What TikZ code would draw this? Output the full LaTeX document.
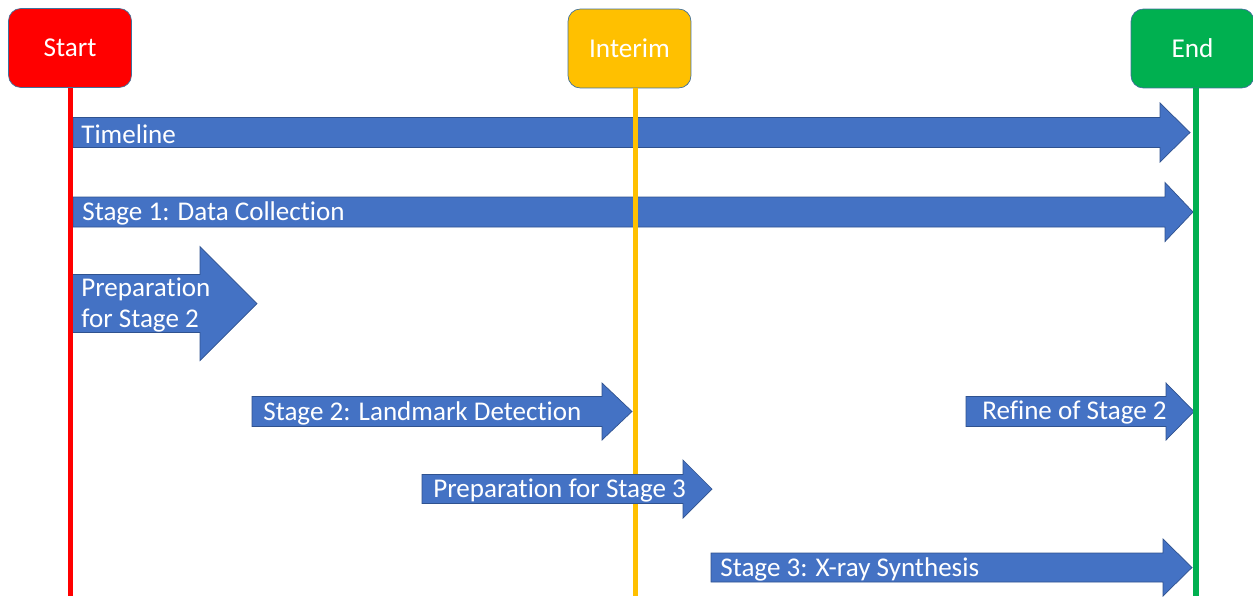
\documentclass[tikz,border=0pt]{standalone}
\usepackage{fontspec}
\setmainfont{Carlito}[Ligatures=NoCommon]
\definecolor{stageblue}{HTML}{4472C4}
\definecolor{stageedge}{HTML}{2F528F}
\definecolor{boxedge}{HTML}{41719C}
\definecolor{startred}{HTML}{FF0000}
\definecolor{interimgold}{HTML}{FFC000}
\definecolor{endgreen}{HTML}{00B050}
\newcommand{\stagearrow}[6]{%
  \filldraw[stagearrow] (#1,#4-#5) -- (#2,#4-#5) -- (#2,#4-#6) -- (#3,#4)
    -- (#2,#4+#6) -- (#2,#4+#5) -- (#1,#4+#5) -- cycle;}
\begin{document}
\begin{tikzpicture}[x=0.02cm, y=-0.02cm,
        milestone/.style={draw=boxedge, thin, rounded corners=7pt, minimum width=2.46cm,
            minimum height=1.58cm, text=white, font=\fontsize{15.5}{18}\selectfont},
        stagearrow/.style={fill=stageblue, draw=stageedge, thin},
        stagelabel/.style={anchor=west, inner sep=0pt, text=white, align=left,
            font=\fontsize{15.4}{18.2}\selectfont},
        phase/.style={line width=3.4pt}]
                \useasboundingbox (0,0) rectangle (1253,596);

                \path (70.5,596) coordinate (startfoot);
                \path (635.5,596) coordinate (interimfoot);
                \path (1196,596) coordinate (endfoot);

                \stagearrow{73}{1160}{1190}{132.5}{15}{29.5}
                \stagearrow{73}{1165}{1193}{212}{15}{29.5}
                \stagearrow{71}{200}{257}{303.5}{29}{57}
                \stagearrow{252}{602}{632}{411.5}{15}{28.5}
                \stagearrow{966}{1166}{1194}{411.5}{15}{28.5}

                \node[milestone, fill=startred] (start) at (70,48) {Start};
                \node[milestone, fill=interimgold] (interim) at (629.5,48.5) {Interim};
                \node[milestone, fill=endgreen] (end) at (1192.5,48.5) {End};

                \draw[phase, startred, line width=3pt] (start.south -| startfoot) -- (startfoot);
                \draw[phase, interimgold] (interim.south -| interimfoot) -- (interimfoot);
                \draw[phase, endgreen] (end.south -| endfoot) -- (endfoot);

                \stagearrow{422}{683}{712}{489}{14.5}{29}
                \stagearrow{711}{1163}{1192}{567.5}{14.5}{28.5}

                \node[stagelabel] (timeline) at (81,134) {Timeline};
                \node[stagelabel] (stage1) at (82,213.5) {Stage 1: Data Collection};
                \node[stagelabel] (prep2) at (81,305) {Preparation\\for Stage 2};
                \node[stagelabel] (stage2) at (263,413) {Stage 2: Landmark Detection};
                \node[stagelabel] (refine2) at (982,413) {Refine of Stage 2};
                \node[stagelabel] (prep3) at (433,490.5) {Preparation for Stage 3};
                \node[stagelabel] (stage3) at (720,569) {Stage 3: X-ray Synthesis};
            \end{tikzpicture}
\end{document}
